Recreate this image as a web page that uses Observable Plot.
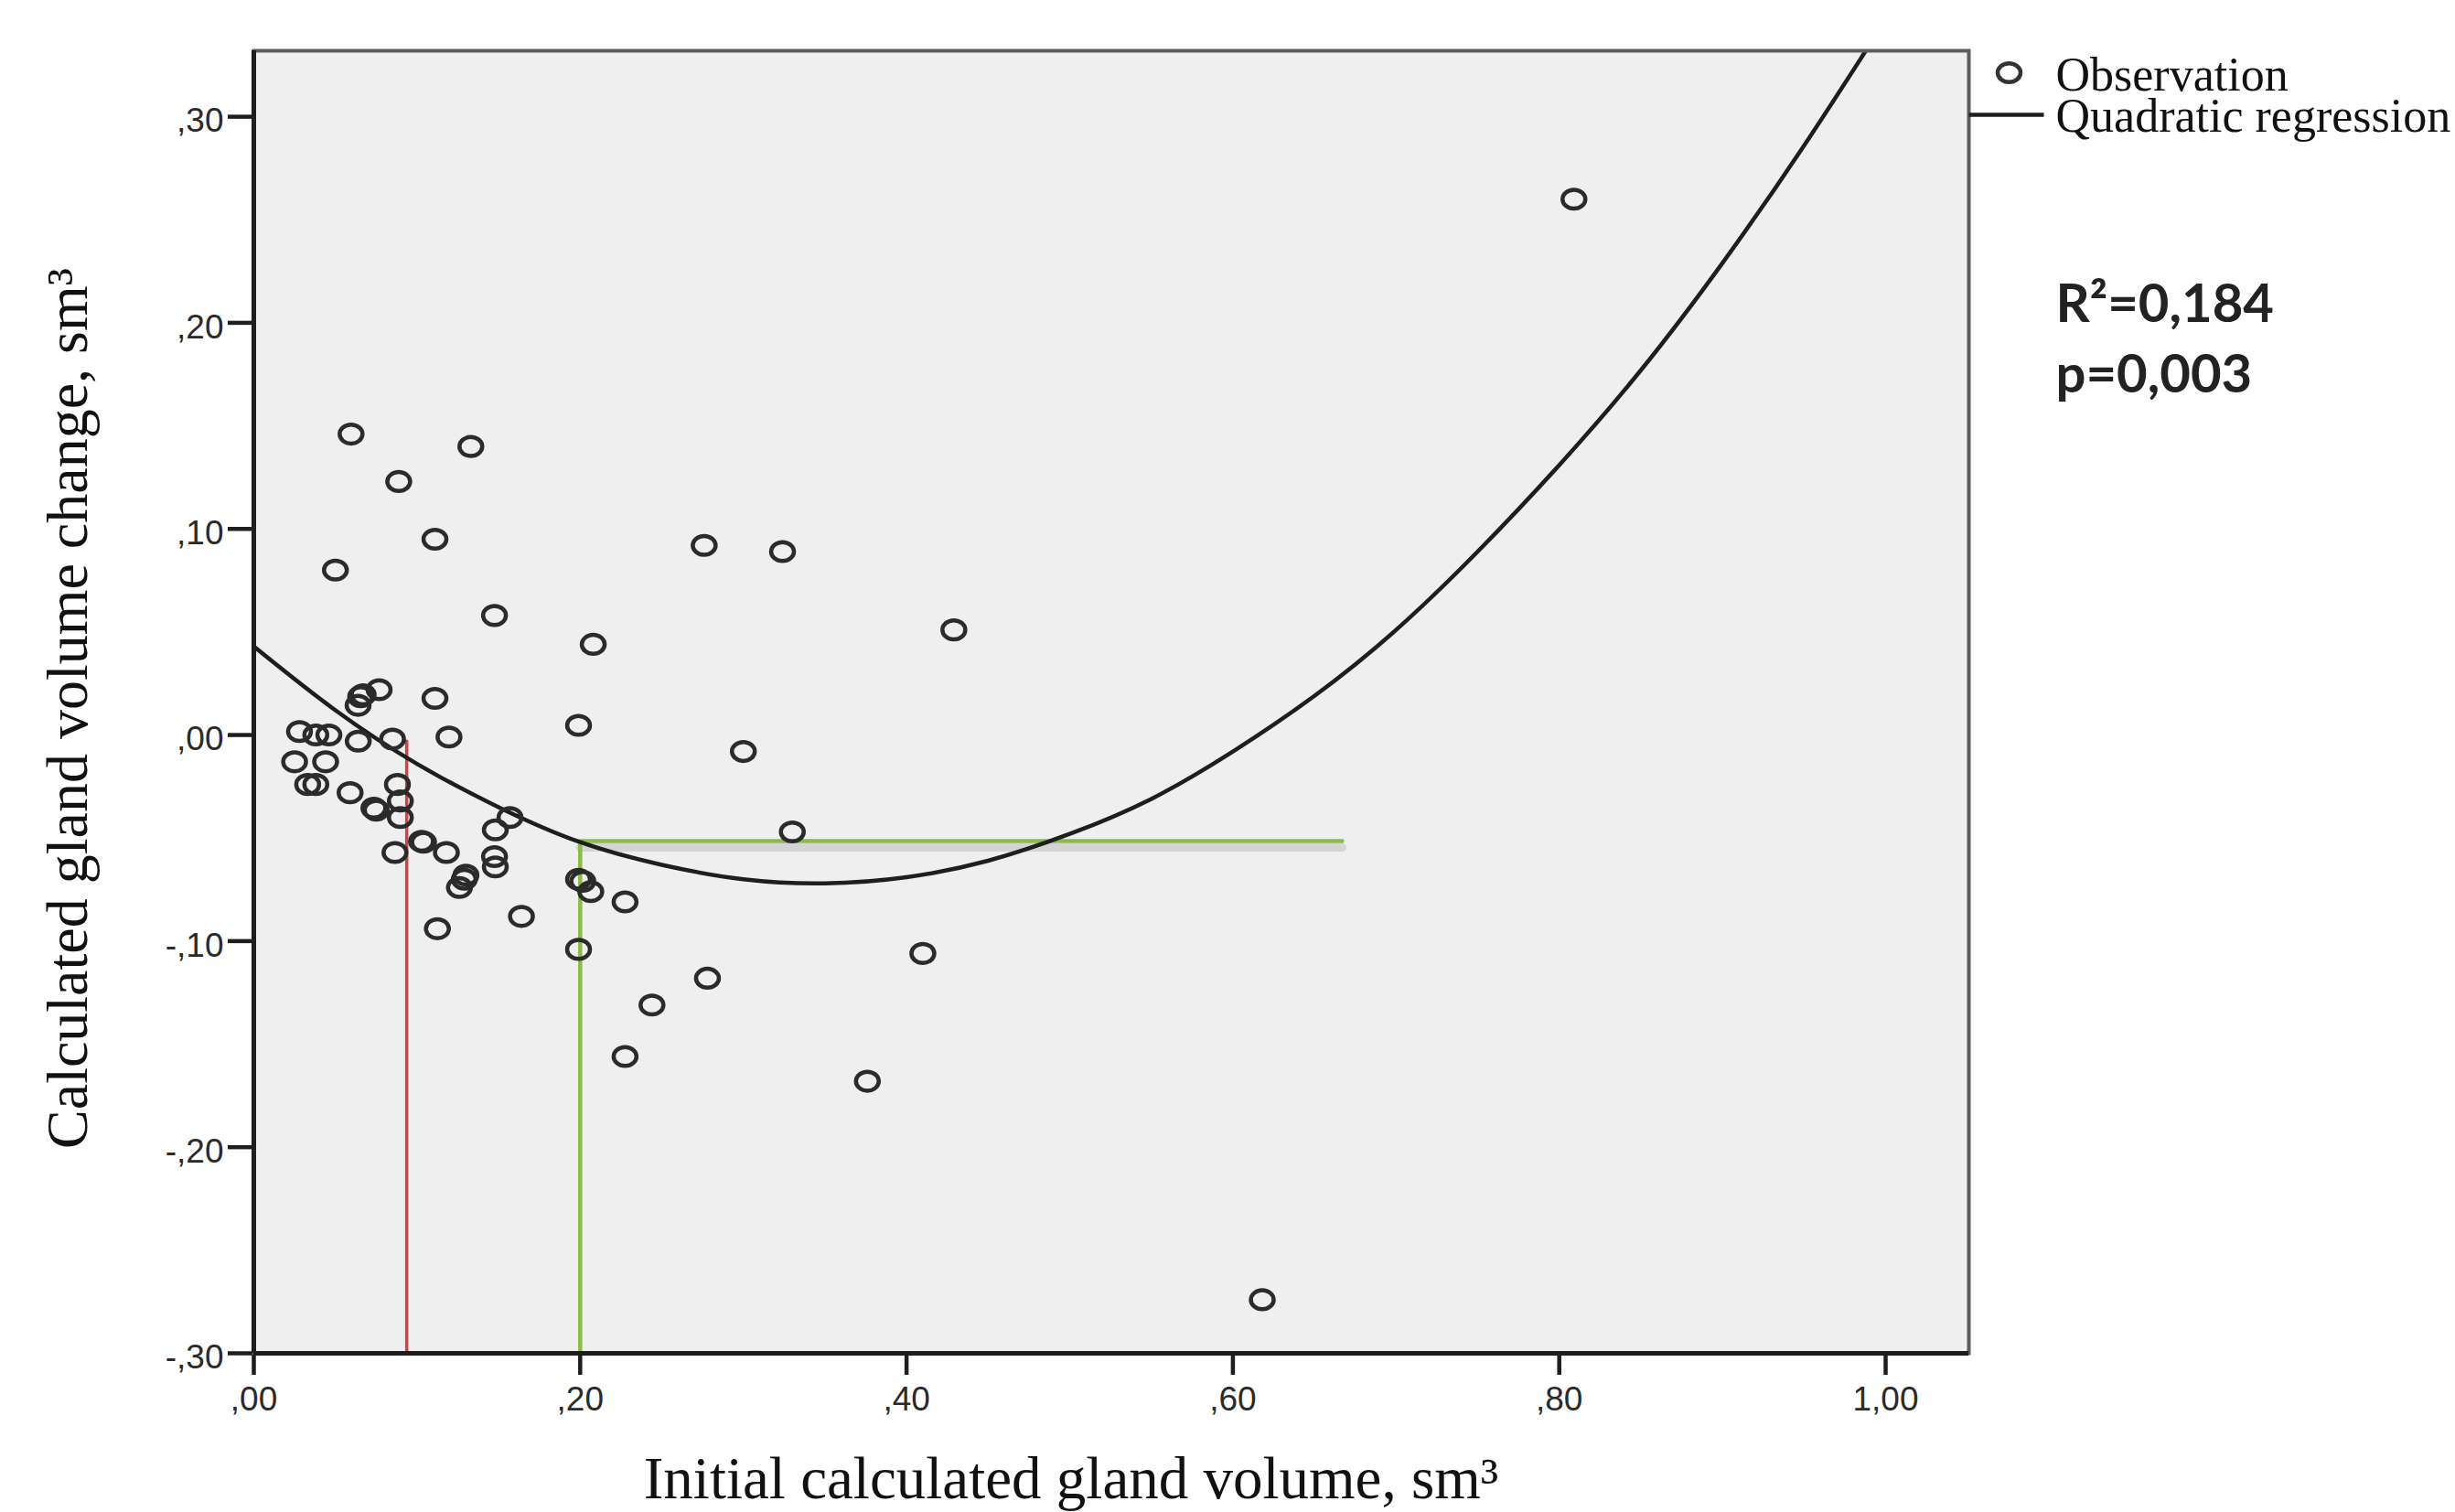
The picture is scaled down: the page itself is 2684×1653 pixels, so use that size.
<!DOCTYPE html>
<html>
<head>
<meta charset="utf-8">
<script src="https://cdn.jsdelivr.net/npm/d3@7"></script>
<script src="https://cdn.jsdelivr.net/npm/@observablehq/plot@0.6"></script>
<style>
html, body { margin: 0; padding: 0; background: #fff; overflow: hidden; }
</style>
</head>
<body>
<div id="chart"></div>
<script>
// Observations: initial calculated gland volume (x) and its change (y), sm³
const obsX = [0.0596, 0.0888, 0.133, 0.111, 0.050, 0.1475, 0.208, 0.276, 0.324, 0.429, 0.809,
  0.0768, 0.067, 0.0655, 0.0639, 0.111, 0.199, 0.300, 0.028, 0.038, 0.046, 0.064, 0.085, 0.1196,
  0.025, 0.044, 0.033, 0.038, 0.059, 0.0736, 0.075, 0.088, 0.0898, 0.0898, 0.0865, 0.1028, 0.104,
  0.118, 0.130, 0.129, 0.126, 0.148, 0.157, 0.1475, 0.148, 0.199, 0.2016, 0.2065, 0.2275, 0.1125,
  0.164, 0.199, 0.330, 0.278, 0.244, 0.2275, 0.410, 0.376, 0.618];
const obsY = [0.146, 0.123, 0.140, 0.095, 0.080, 0.058, 0.044, 0.092, 0.089, 0.051, 0.260,
  0.022, 0.0195, 0.0186, 0.0144, 0.0178, 0.0047, -0.008, 0.0017, 0.000, 0.000, -0.003, -0.002, -0.001,
  -0.013, -0.013, -0.024, -0.024, -0.028, -0.0355, -0.0365, -0.024, -0.032, -0.040, -0.057, -0.0516, -0.052,
  -0.057, -0.068, -0.070, -0.074, -0.046, -0.040, -0.059, -0.064, -0.070, -0.071, -0.076, -0.081, -0.094,
  -0.088, -0.104, -0.047, -0.118, -0.131, -0.156, -0.106, -0.168, -0.274];

// Quadratic regression curve
const curveX = [0, 0.05, 0.1, 0.15, 0.2, 0.25, 0.3, 0.35, 0.4, 0.45, 0.5, 0.55, 0.6, 0.65, 0.7, 0.75, 0.8, 0.85, 0.9, 0.95, 1.0];
const curveY = [0.043, 0.012, -0.014, -0.035, -0.052, -0.063, -0.070, -0.072, -0.069, -0.061, -0.048, -0.031, -0.008, 0.019, 0.051, 0.089, 0.131, 0.177, 0.229, 0.286, 0.347];

// Reference lines
const redX = [0.0937, 0.0937];
const redY = [-0.30, -0.003];
const greenX = [0.20, 0.20, 0.667];
const greenY = [-0.30, -0.0515, -0.0515];

// Axes
const xDomain = [0, 1.051];
const yDomain = [-0.30, 0.332];
const xTicks = [0, 0.2, 0.4, 0.6, 0.8, 1.0];
const xTickLabels = [",00", ",20", ",40", ",60", ",80", "1,00"];
const yTicks = [-0.3, -0.2, -0.1, 0, 0.1, 0.2, 0.3];
const yTickLabels = ["-,30", "-,20", "-,10", ",00", ",10", ",20", ",30"];

const xTitle = ["Initial calculated gland volume, sm³"];
const yTitle = ["Calculated gland volume change, sm³"];
const legendLabels = ["Observation", "Quadratic regression"];
const statLabels = ["R²=0,184", "p=0,003"];

const obs = obsX.map((x, i) => ({x, y: obsY[i]}));
const curve = curveX.map((x, i) => ({x, y: curveY[i]}));
const red = redX.map((x, i) => ({x, y: redY[i]}));
const green = greenX.map((x, i) => ({x, y: greenY[i]}));

// SPSS-like open marker (slightly wide ellipse) and legend line symbol
const ellipseSymbol = { draw(ctx) {
  const rx = 12.5, ry = 10.3, k = 0.5523;
  ctx.moveTo(rx, 0);
  ctx.bezierCurveTo(rx, ry * k, rx * k, ry, 0, ry);
  ctx.bezierCurveTo(-rx * k, ry, -rx, ry * k, -rx, 0);
  ctx.bezierCurveTo(-rx, -ry * k, -rx * k, -ry, 0, -ry);
  ctx.bezierCurveTo(rx * k, -ry, rx, -ry * k, rx, 0);
  ctx.closePath();
} };
const lineSymbol = { draw(ctx) { ctx.moveTo(-41, 0); ctx.lineTo(41, 0); } };
const serif = "Liberation Serif, Times New Roman, serif";
const sans = "Liberation Sans, Arial, sans-serif";

const chart = Plot.plot({
  width: 2684,
  height: 1653,
  marginLeft: 277,
  marginRight: 532,
  marginTop: 55,
  marginBottom: 174,
  style: { fontFamily: sans, background: "#fff", color: "#222" },
  x: { domain: xDomain },
  y: { domain: yDomain },
  marks: [
    Plot.frame({ fill: "#efefef", stroke: null }),
    // ticks
    Plot.axisX(xTicks, { tickSize: 24, strokeWidth: 4.5, stroke: "#1e1e1e", fill: "none", label: null }),
    Plot.axisY(yTicks, { tickSize: 28, strokeWidth: 4.5, stroke: "#1e1e1e", fill: "none", label: null }),
    // tick labels
    Plot.text(xTicks, { x: d => d, text: d => xTickLabels[xTicks.indexOf(d)], frameAnchor: "bottom", dy: 51,
      lineAnchor: "middle", textAnchor: "middle", fontSize: 37, fontFamily: sans, fill: "#2a2a2a" }),
    Plot.text(yTicks, { y: d => d, text: d => yTickLabels[yTicks.indexOf(d)], frameAnchor: "left", dx: -33, dy: 5,
      lineAnchor: "middle", textAnchor: "end", fontSize: 37, fontFamily: sans, fill: "#2a2a2a" }),
    // reference lines
    Plot.line(red, { x: "x", y: "y", stroke: "#cc4541", strokeWidth: 3.5 }),
    Plot.line(green.slice(1), { x: "x", y: "y", stroke: "#777", strokeOpacity: 0.22, strokeWidth: 9, dy: 7 }),
    Plot.line(green, { x: "x", y: "y", stroke: "#8cba4b", strokeWidth: 4.5 }),
    // regression curve
    Plot.line(curve, { x: "x", y: "y", curve: "natural", stroke: "#1e1e1e", strokeWidth: 4.5, clip: true }),
    // observations
    Plot.dot(obs, { x: "x", y: "y", symbol: ellipseSymbol, stroke: "#2b2b2b", strokeWidth: 4.5, fill: "none" }),
    // frame borders
    Plot.frame({ stroke: "#5e5e5e", strokeWidth: 4 }),
    Plot.ruleX([xDomain[0]], { stroke: "#1e1e1e", strokeWidth: 5 }),
    Plot.ruleY([yDomain[0]], { stroke: "#1e1e1e", strokeWidth: 5 }),
    // axis titles
    Plot.text(xTitle, { text: d => d, frameAnchor: "bottom", dx: -44, dy: 158, lineAnchor: "bottom",
      textAnchor: "middle", fontSize: 65, fontFamily: serif, fill: "#111" }),
    Plot.text(yTitle, { text: d => d, frameAnchor: "left", dx: -183, dy: 7, rotate: -90, lineAnchor: "bottom",
      textAnchor: "middle", fontSize: 64, fontFamily: serif, fill: "#111" }),
    // legend
    Plot.dot([legendLabels[0]], { frameAnchor: "top-right", dx: 44, dy: 24, symbol: ellipseSymbol, stroke: "#333", strokeWidth: 4.5, fill: "none" }),
    Plot.dot([legendLabels[1]], { frameAnchor: "top-right", dx: 41, dy: 70, symbol: lineSymbol, stroke: "#1e1e1e", strokeWidth: 4.5, fill: "none" }),
    Plot.text([legendLabels.join("\n")], { text: d => d, frameAnchor: "top-right", dx: 95, dy: 52, textAnchor: "start",
      lineAnchor: "middle", lineHeight: 0.865, fontSize: 52, fontFamily: serif, fill: "#111" }),
    // statistics
    Plot.text([statLabels.join("\n")], { text: d => d, frameAnchor: "top-right", dx: 95, dy: 310, textAnchor: "start",
      lineAnchor: "middle", lineHeight: 1.33, fontSize: 58, fontWeight: "bold", fontFamily: "Lato, sans-serif", fill: "#222" })
  ]
});
document.getElementById("chart").appendChild(chart);
</script>
</body>
</html>
